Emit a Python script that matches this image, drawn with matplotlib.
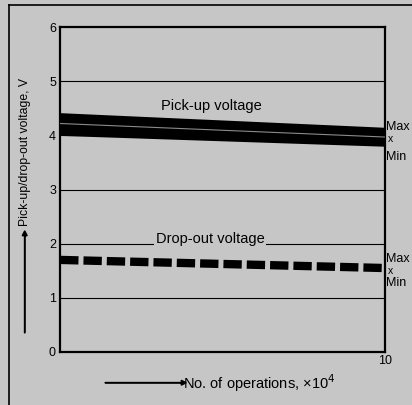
import matplotlib
matplotlib.use('Agg')
import matplotlib.pyplot as plt
from matplotlib.patches import FancyArrow
from matplotlib.lines import Line2D

# values
ops = [0, 10]
pick_max = [4.42, 4.15]
pick_min = [4.00, 3.80]
pick_mean = [4.22, 3.97]
drop_max = [1.76, 1.62]
drop_min = [1.64, 1.47]
drop_mean = [1.70, 1.55]
y_ticks = [0, 1, 2, 3, 4, 5, 6]

plt.rcParams['font.family'] = ['Liberation Sans', 'DejaVu Sans']
bg = '#c6c6c6'

fig = plt.figure(figsize=(4.12, 4.05), dpi=100, facecolor=bg)
ax = fig.add_axes([0.146, 0.131, 0.788, 0.802], facecolor=bg)

# outer frame of the scanned figure (left and top edges only)
fig.lines.append(Line2D([0.022, 0.022], [0.0, 0.988], transform=fig.transFigure,
                        color='black', lw=1.2))
fig.lines.append(Line2D([0.022, 1.0], [0.988, 0.988], transform=fig.transFigure,
                        color='black', lw=1.2))

ax.set_xlim(0, 10)
ax.set_ylim(0, 6)
for v in y_ticks[1:-1]:
    ax.axhline(v, color='black', lw=0.8, zorder=1)

# pick-up band
ax.fill_between(ops, pick_min, pick_max, color='black', lw=0, zorder=3)
ax.plot(ops, pick_mean, color='#8a8a8a', lw=0.8, zorder=4)

# drop-out band (dashed)
ax.plot(ops, drop_mean, color='black', lw=6, dashes=(2.2, 0.6), zorder=3)

ax.text(3.1, 4.54, 'Pick-up voltage', fontsize=10.5, va='center', zorder=2,
        bbox=dict(facecolor=bg, edgecolor='none', pad=1))
ax.text(2.95, 2.08, 'Drop-out voltage', fontsize=10.5, va='center', zorder=2,
        bbox=dict(facecolor=bg, edgecolor='none', pad=1))

# Max / x / Min markers at the right edge
ax.text(10.05, pick_max[-1], 'Max', fontsize=9, va='center')
ax.text(10.08, pick_mean[-1] - 0.04, 'x', fontsize=7.5, va='center')
ax.text(10.05, pick_min[-1] - 0.19, 'Min', fontsize=9, va='center')
ax.text(10.05, drop_max[-1] + 0.1, 'Max', fontsize=9, va='center')
ax.text(10.08, drop_mean[-1] - 0.06, 'x', fontsize=7.5, va='center')
ax.text(10.05, drop_min[-1] - 0.19, 'Min', fontsize=9, va='center')

ax.set_yticks(y_ticks)
ax.set_yticklabels([str(v) for v in y_ticks], fontsize=9)
ax.set_xticks(ops)
ax.set_xticklabels(['', '10'], fontsize=9)
ax.tick_params(length=0, pad=3)
ax.tick_params(axis='x', pad=2)
for s in ax.spines.values():
    s.set_linewidth(1.6)

# axis titles with arrows, as in the datasheet
fig.text(0.06, 0.625, 'Pick-up/drop-out voltage, V', rotation=90, fontsize=8.8,
         ha='center', va='center')
fig.patches.append(FancyArrow(0.06, 0.178, 0, 0.24, width=0.001,
                              head_width=0.012, head_length=0.012, color='black',
                              transform=fig.transFigure))
fig.text(0.445, 0.055, 'No. of operations, ×10$^4$', fontsize=10.5, va='center')
fig.patches.append(FancyArrow(0.255, 0.055, 0.185, 0, width=0.001,
                              head_width=0.012, head_length=0.012, color='black',
                              transform=fig.transFigure))

fig.savefig('out.png', dpi=100, facecolor=bg)
